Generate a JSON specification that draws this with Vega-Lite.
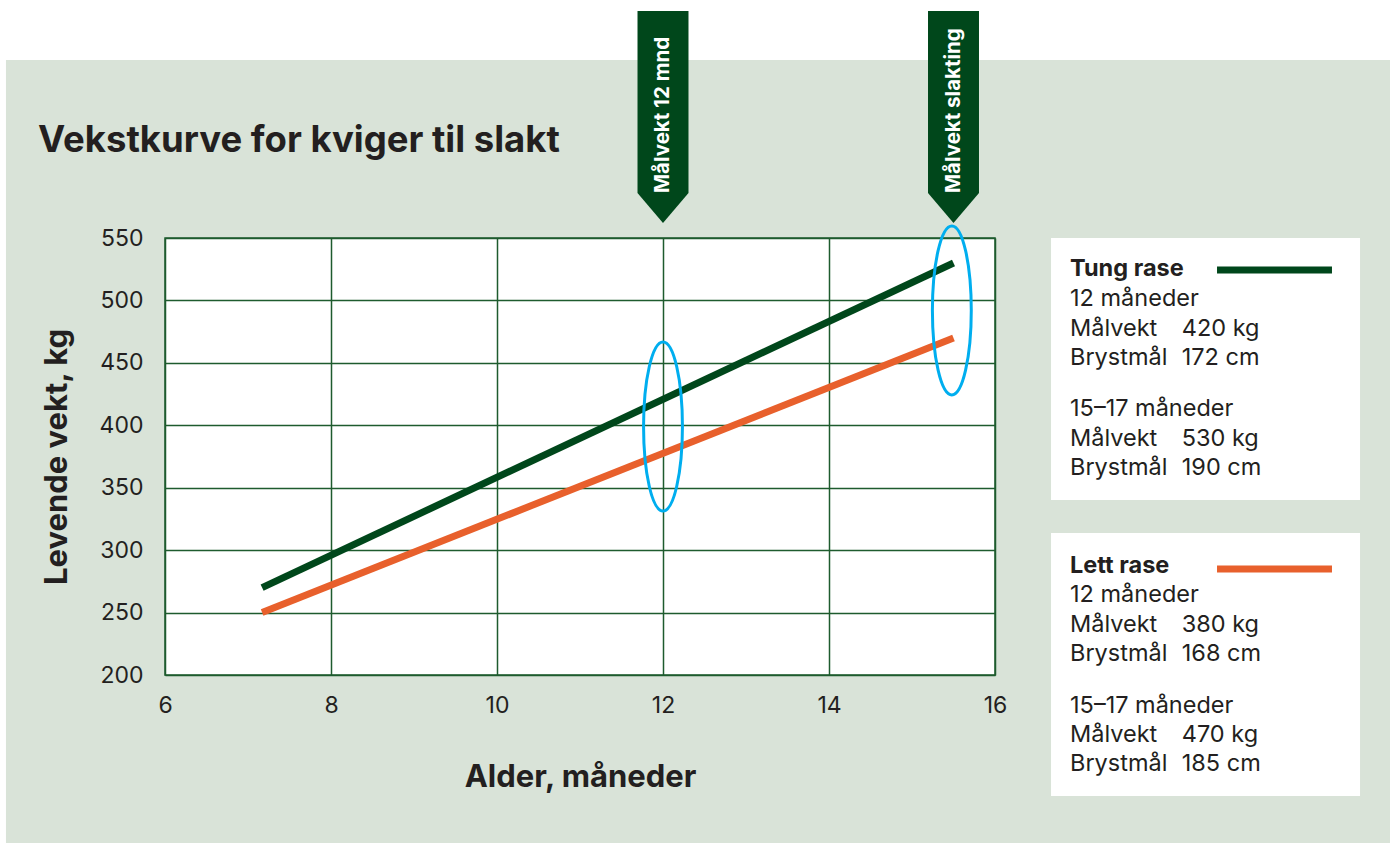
{
  "$schema": "https://vega.github.io/schema/vega-lite/v6.json",
  "width": 830,
  "height": 437,
  "autosize": "none",
  "padding": {"left": 165, "top": 238, "right": 400, "bottom": 168},
  "background": "#d9e3d8",
  "config": {
    "font": "Inter",
    "view": {"fill": "white", "stroke": "#1e5b2e", "strokeWidth": 1.5},
    "axis": {
      "grid": true,
      "gridColor": "#1e5b2e",
      "gridWidth": 1.5,
      "gridOpacity": 1,
      "domain": false,
      "ticks": false,
      "labelFlush": false,
      "labelFont": "Inter",
      "labelFontSize": 23,
      "labelColor": "#231f20",
      "titleFont": "Inter",
      "titleFontSize": 31,
      "titleFontWeight": "bold",
      "titleColor": "#231f20"
    }
  },
  "datasets": {
    "strips": [
      {"x": 3.9, "x2": 22, "y": 692.6, "y2": 800},
      {"x": 3.9, "x2": 4.084, "y": 0, "y2": 800},
      {"x": 20.759, "x2": 22, "y": 0, "y2": 800}
    ],
    "boxes": [
      {"x": 16.675, "x2": 20.398, "y": 550, "y2": 340.2},
      {"x": 16.675, "x2": 20.398, "y": 313.7, "y2": 103.1}
    ],
    "curves": [
      {"series": "Tung rase", "x": 7.17, "y": 270},
      {"series": "Tung rase", "x": 15.5, "y": 530},
      {"series": "Lett rase", "x": 7.17, "y": 250},
      {"series": "Lett rase", "x": 15.5, "y": 470}
    ],
    "swatches": [
      {"series": "Tung rase", "x": 18.675, "x2": 20.06, "y": 524.4},
      {"series": "Lett rase", "x": 18.675, "x2": 20.06, "y": 284.9}
    ],
    "ellipses": [
      {"x": 12, "y": 399},
      {"x": 15.48, "y": 492}
    ],
    "banners": [
      {"x": 12, "y": 550, "ty": 586, "label": "Målvekt 12 mnd"},
      {"x": 15.5, "y": 550, "ty": 586, "label": "Målvekt slakting"}
    ],
    "titles": [
      {"x": 4.47, "y": 618.9, "text": "Vekstkurve for kviger til slakt"}
    ],
    "heads": [
      {"x": 16.904, "y": 519.6, "text": "Tung rase"},
      {"x": 16.904, "y": 281.7, "text": "Lett rase"}
    ],
    "rows": [
      {"x": 16.904, "y": 495.5, "text": "12 måneder"},
      {"x": 16.904, "y": 471.5, "text": "Målvekt"},
      {"x": 18.25, "y": 471.5, "text": "420 kg"},
      {"x": 16.904, "y": 448.3, "text": "Brystmål"},
      {"x": 18.25, "y": 448.3, "text": "172 cm"},
      {"x": 16.904, "y": 407.4, "text": "15–17 måneder"},
      {"x": 16.904, "y": 383.4, "text": "Målvekt"},
      {"x": 18.25, "y": 383.4, "text": "530 kg"},
      {"x": 16.904, "y": 360.2, "text": "Brystmål"},
      {"x": 18.25, "y": 360.2, "text": "190 cm"},
      {"x": 16.904, "y": 258.5, "text": "12 måneder"},
      {"x": 16.904, "y": 234.4, "text": "Målvekt"},
      {"x": 18.25, "y": 234.4, "text": "380 kg"},
      {"x": 16.904, "y": 211.2, "text": "Brystmål"},
      {"x": 18.25, "y": 211.2, "text": "168 cm"},
      {"x": 16.904, "y": 169.6, "text": "15–17 måneder"},
      {"x": 16.904, "y": 146.3, "text": "Målvekt"},
      {"x": 18.25, "y": 146.3, "text": "470 kg"},
      {"x": 16.904, "y": 123.1, "text": "Brystmål"},
      {"x": 18.25, "y": 123.1, "text": "185 cm"}
    ]
  },
  "encoding": {
    "x": {
      "field": "x",
      "type": "quantitative",
      "title": "Alder, måneder",
      "scale": {"domain": [6, 16], "nice": false, "zero": false},
      "axis": {"values": [6, 8, 10, 12, 14, 16], "labelPadding": 19, "titlePadding": 45}
    },
    "y": {
      "field": "y",
      "type": "quantitative",
      "title": "Levende vekt, kg",
      "scale": {"domain": [200, 550], "nice": false, "zero": false},
      "axis": {"values": [200, 250, 300, 350, 400, 450, 500, 550], "labelPadding": 22, "titlePadding": 26}
    }
  },
  "layer": [
    {
      "data": {"name": "strips"},
      "mark": {"type": "rect", "fill": "white", "clip": false},
      "encoding": {"x2": {"field": "x2"}, "y2": {"field": "y2"}}
    },
    {
      "data": {"name": "boxes"},
      "mark": {"type": "rect", "fill": "white", "clip": false},
      "encoding": {"x2": {"field": "x2"}, "y2": {"field": "y2"}}
    },
    {
      "data": {"name": "curves"},
      "mark": {"type": "line", "strokeWidth": 7, "strokeCap": "butt"},
      "encoding": {
        "color": {
          "field": "series",
          "type": "nominal",
          "scale": {"domain": ["Tung rase", "Lett rase"], "range": ["#00471b", "#e8602c"]},
          "legend": null
        }
      }
    },
    {
      "data": {"name": "swatches"},
      "mark": {"type": "rule", "strokeWidth": 7, "strokeCap": "butt"},
      "encoding": {
        "x2": {"field": "x2"},
        "color": {"field": "series", "type": "nominal", "legend": null}
      }
    },
    {
      "data": {"name": "ellipses"},
      "mark": {
        "type": "point",
        "shape": "M0,-1A0.23,1,0,1,1,0,1A0.23,1,0,1,1,0,-1Z",
        "size": 28561,
        "filled": false,
        "stroke": "#00aeef",
        "strokeWidth": 3,
        "opacity": 1
      }
    },
    {
      "data": {"name": "banners"},
      "mark": {
        "type": "point",
        "shape": "M-0.1123,-1L0.1123,-1L0.1123,-0.198L0,-0.066L-0.1123,-0.198Z",
        "size": 206116,
        "filled": true,
        "fill": "#00471b",
        "strokeWidth": 0,
        "opacity": 1
      }
    },
    {
      "data": {"name": "banners"},
      "mark": {
        "type": "text",
        "angle": 270,
        "align": "left",
        "baseline": "middle",
        "fontSize": 20.5,
        "fontWeight": "bold",
        "color": "white"
      },
      "encoding": {"y": {"field": "ty", "type": "quantitative"}, "text": {"field": "label"}}
    },
    {
      "data": {"name": "titles"},
      "mark": {
        "type": "text",
        "align": "left",
        "baseline": "alphabetic",
        "fontSize": 36.5,
        "fontWeight": "bold",
        "color": "#231f20"
      },
      "encoding": {"text": {"field": "text"}}
    },
    {
      "data": {"name": "heads"},
      "mark": {
        "type": "text",
        "align": "left",
        "baseline": "alphabetic",
        "fontSize": 23.5,
        "fontWeight": "bold",
        "color": "#231f20"
      },
      "encoding": {"text": {"field": "text"}}
    },
    {
      "data": {"name": "rows"},
      "mark": {
        "type": "text",
        "align": "left",
        "baseline": "alphabetic",
        "fontSize": 23.5,
        "color": "#231f20"
      },
      "encoding": {"text": {"field": "text"}}
    }
  ]
}
